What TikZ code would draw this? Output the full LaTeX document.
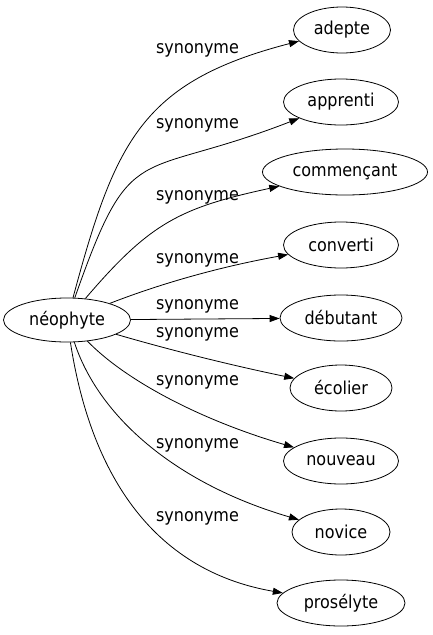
\documentclass[tikz,border=0pt]{standalone}
\usepackage{fontspec}
\setmainfont{DejaVu Sans}[FakeStretch=0.9]
\usetikzlibrary{shapes.geometric,arrows.meta}
\begin{document}
\begin{tikzpicture}[x=1pt,y=-1pt,
  every node/.style={font=\fontsize{17.8}{20}\selectfont},
  word/.style={ellipse, draw, line width=0.8pt, inner sep=0pt, minimum width=#1, minimum height=46pt},
  lbl/.style={inner sep=0pt},
  edge/.style={draw, line width=0.8pt, -{Triangle[length=10pt,width=7pt]}}]
\useasboundingbox (0,0) rectangle (432,635);
\node[word=127, minimum height=44pt] (neo) at (67,320) {néophyte};
\node[word=97]  (t1) at (342,30)  {adepte};
\node[word=115] (t2) at (341,102) {apprenti};
\node[word=165] (t3) at (345,172) {commençant};
\node[word=115] (t4) at (341,245) {converti};
\node[word=122] (t5) at (341,318) {débutant};
\node[word=102] (t6) at (341,388) {écolier};
\node[word=115] (t7) at (341,461) {nouveau};
\node[word=98]  (t8) at (341,532) {novice};
\node[word=128] (t9) at (341,603) {prosélyte};
\node[lbl] (l1) at (197.5,50)  {synonyme};
\node[lbl] (l2) at (197.5,125) {synonyme};
\node[lbl] (l3) at (197.5,197) {synonyme};
\node[lbl] (l4) at (197.5,260) {synonyme};
\node[lbl] (l5) at (197.5,306) {synonyme};
\node[lbl] (l6) at (197.5,334) {synonyme};
\node[lbl] (l7) at (197.5,382) {synonyme};
\node[lbl] (l8) at (197.5,445) {synonyme};
\node[lbl] (l9) at (197.5,518) {synonyme};
\path[edge] (neo) .. controls (115,142) and (141,82) .. (t1);
\path[edge] (neo) .. controls (132,135) and (135,182) .. (t2);
\path[edge] (neo) .. controls (150,223) and (179,208) .. (t3);
\path[edge] (neo) .. controls (170,280) and (230,265) .. (t4);
\path[edge] (neo) -- (t5);
\path[edge] (neo) .. controls (170,350) and (230,365) .. (t6);
\path[edge] (neo) .. controls (125,380) and (200,420) .. (t7);
\path[edge] (neo) .. controls (100,420) and (180,485) .. (t8);
\path[edge] (neo) .. controls (90,470) and (150,570) .. (t9);
\end{tikzpicture}
\end{document}
